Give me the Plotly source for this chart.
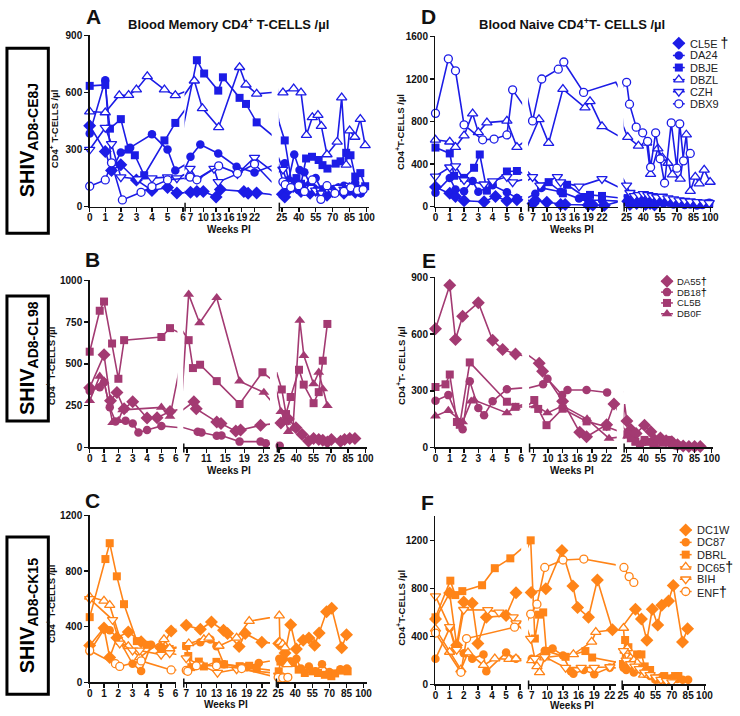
import plotly.graph_objects as go

W, H = 740, 716
FONT = "Arial, Liberation Sans, sans-serif"
BLUE = "#1c1ce6"
PURPLE = "#a33a72"
ORANGE = "#ff8418"

# ---------------- tick labels ----------------
SEG1_TICKS = [0, 1, 2, 3, 4, 5, 6]
SEG2_TICKS = [7, 10, 13, 16, 19, 22]
SEG2_TICKS_B = [7, 11, 15, 19, 23]
SEG3_TICKS = [25, 40, 55, 70, 85, 100]
A_YTICKS = [0, 300, 600, 900]
D_YTICKS = [0, 400, 800, 1200, 1600]
B_YTICKS = [0, 250, 500, 750, 1000]
E_YTICKS = [0, 300, 600, 900]
C_YTICKS = [0, 400, 800, 1200]
F_YTICKS = [0, 400, 800, 1200]

# ---------------- data: weeks PI and CD4+ T cells / ul ----------------
# Panel A - blood memory, SHIV AD8-CE8J
A_CL5E_wk = [0, 1, 1.4, 2, 3, 4, 5, 5.6, 7, 8.5, 10, 13, 14, 19.5, 20.5, 22.5, 25.5, 27.6, 31, 34, 38, 42, 46, 50, 55, 60, 65, 70, 75, 80, 85, 90, 95]
A_CL5E_val = [425, 290, 190, 220, 140, 85, 100, 72, 75, 80, 80, 50, 90, 80, 70, 72, 65, 50, 90, 110, 100, 80, 95, 70, 85, 70, 60, 80, 90, 70, 95, 75, 80]
A_DA24_wk = [0, 1, 1.4, 2, 2.6, 4, 5, 5.5, 7, 9.3, 13.5, 17.8, 22, 27.6, 31, 36, 40.7, 45, 50, 55, 60, 65, 70, 75, 80, 85, 90, 95]
A_DA24_val = [385, 665, 190, 285, 310, 380, 300, 190, 262, 327, 279, 210, 179, 228, 140, 274, 193, 180, 120, 150, 90, 100, 90, 100, 110, 80, 125, 70]
A_DBJE_wk = [0, 1, 1.3, 2, 2.5, 2.9, 3.5, 4.8, 5.5, 8.5, 10.2, 13.5, 14.6, 18.5, 20, 22.5, 27.6, 33.5, 38, 42, 46.5, 51.7, 57.6, 61, 65.4, 72.7, 77, 82, 85.8, 90, 94.5, 98.8]
A_DBJE_val = [635, 640, 410, 460, 300, 270, 165, 348, 440, 770, 700, 610, 680, 572, 540, 443, 348, 133, 150, 120, 253, 262, 245, 218, 200, 226, 238, 283, 270, 158, 176, 107]
A_DBZL_wk = [0, 1, 1.9, 2.5, 3, 3.7, 4.8, 5.5, 7.9, 9.8, 13.6, 18.5, 20, 22.5, 26, 35.5, 42, 46.8, 52, 57, 60, 65, 74, 78, 82, 85, 89.6, 94.5, 98.8]
A_DBZL_val = [500, 495, 585, 586, 615, 685, 615, 585, 662, 517, 417, 733, 641, 593, 600, 621, 600, 376, 469, 481, 423, 274, 340, 573, 219, 400, 366, 460, 322]
A_CZH_wk = [0, 1, 1.4, 2, 3.1, 4, 5, 5.6, 6.9, 8.5, 12.5, 13.5, 18, 22, 26, 30, 35, 40, 45, 50, 55, 60, 65, 70, 75, 80, 85, 90, 95]
A_CZH_val = [300, 415, 330, 155, 145, 150, 155, 150, 200, 145, 200, 130, 172, 258, 195, 120, 100, 110, 90, 100, 85, 70, 95, 80, 100, 90, 110, 95, 100]
A_DBX9_wk = [0, 1, 1.4, 2.1, 3.3, 4, 5, 6.9, 8.5, 13.6, 18, 22, 26, 28, 33, 40, 45, 52, 59.6, 65, 72, 80, 86, 92, 97]
A_DBX9_val = [107, 140, 230, 35, 75, 105, 140, 155, 141, 214, 175, 224, 130, 115, 100, 110, 80, 140, 38, 110, 70, 80, 100, 85, 90]

# Panel D - blood naive, SHIV AD8-CE8J
D_CL5E_wk = [0, 1, 1.4, 2, 3.4, 4.2, 5, 5.7, 7, 7.5, 10, 13, 14, 19, 20, 22.5, 26, 28, 31, 34, 38, 42, 46, 50]
D_CL5E_val = [185, 125, 95, 55, 45, 95, 55, 65, 30, 60, 40, 20, 20, 15, 15, 10, 50, 20, 60, 30, 40, 20, 30, 15]
D_DA24_wk = [0, 1, 1.4, 2, 2.6, 3, 4, 5, 5.7, 7.5, 8.8, 13, 17, 19, 22, 26, 29, 33, 37, 41, 45, 49, 53, 58, 62, 67, 72, 77, 82, 88, 93, 99]
D_DA24_val = [130, 270, 160, 145, 240, 140, 200, 135, 80, 120, 175, 140, 75, 60, 60, 50, 90, 40, 70, 30, 60, 35, 45, 30, 40, 20, 30, 15, 20, 10, 15, 35]
D_DBJE_wk = [0, 1, 1.3, 2, 2.7, 3.1, 3.6, 4, 5, 5.7, 8.8, 10.4, 13.5, 14.4, 18.3, 19.4, 22, 26, 30, 34, 38, 42, 46, 50, 55, 60, 65, 70, 75, 80, 85, 90, 95, 99]
D_DBJE_val = [555, 500, 290, 270, 365, 490, 150, 215, 330, 335, 190, 230, 125, 205, 90, 110, 100, 80, 60, 90, 70, 50, 60, 40, 55, 45, 35, 40, 30, 25, 30, 20, 25, 30]
D_DBZL_wk = [0, 1, 1.4, 2, 2.6, 3, 3.6, 5, 5.7, 8.3, 10.4, 13.5, 18.3, 19.4, 22, 26, 35.6, 43, 46.5, 53, 57, 62, 66, 73, 78.5, 82, 86.5, 90, 94.5, 99.8]
D_DBZL_val = [628, 610, 560, 668, 874, 698, 790, 806, 560, 821, 597, 1105, 930, 990, 754, 654, 571, 600, 305, 545, 460, 410, 300, 260, 676, 145, 280, 216, 346, 231]
D_CZH_wk = [0, 1, 1.4, 2, 3.4, 4, 5, 5.4, 6.9, 8.5, 12.3, 13, 17, 22, 25, 28, 32, 36, 40, 44, 48, 52, 57, 62, 67, 72, 77, 82, 88, 94, 99]
D_CZH_val = [285, 370, 380, 250, 210, 240, 280, 230, 280, 200, 280, 230, 190, 260, 200, 130, 100, 110, 120, 110, 100, 90, 95, 80, 70, 60, 55, 50, 45, 40, 35]
D_DBX9_wk = [0, 0.9, 1.4, 2, 3.3, 4.1, 5, 5.4, 6.9, 8.9, 12.5, 13.7, 18, 25, 27.6, 33.6, 39.4, 43.8, 46.5, 51, 55, 59, 65, 70, 72.6, 76, 82]
D_DBX9_val = [877, 1390, 1277, 769, 628, 635, 674, 1098, 806, 1200, 1292, 1360, 1074, 1169, 963, 747, 694, 614, 370, 694, 450, 222, 787, 361, 778, 430, 500]

# Panel B - blood memory, SHIV AD8-CL98
B_DA55_wk = [0, 1, 1.45, 1.9, 2.4, 3, 4, 4.7, 5.6, 8.4, 8.9, 13.2, 14.1, 17.2, 18.2, 22.4, 26.5, 33, 39.6, 45, 50.6, 55, 59.5, 63, 67, 70.5, 78.5, 82, 86.5, 91]
B_DA55_val = [358, 554, 280, 329, 231, 274, 176, 178, 215, 274, 231, 153, 143, 98, 104, 133, 147, 170, 118, 78, 39, 53, 47, 43, 33, 47, 37, 47, 53, 53]
B_DB18_wk = [0, 0.7, 1, 1.4, 1.8, 2.5, 3, 3.4, 4, 5, 9.2, 10, 13.2, 14.2, 18, 22.4, 23.5, 25.5]
B_DB18_val = [338, 360, 390, 240, 155, 160, 143, 90, 104, 129, 94, 90, 70, 72, 35, 35, 25, 10]
B_CL5B_wk = [0, 0.7, 1, 1.56, 2, 2.4, 5, 5.6, 7.3, 8.2, 9.7, 13.2, 18, 22.8, 27.3, 31, 35, 42.3, 46.4, 55, 59.5, 63, 67]
B_CL5B_val = [573, 818, 873, 622, 411, 642, 661, 714, 642, 475, 495, 397, 260, 450, 347, 200, 302, 465, 376, 265, 331, 519, 739]
B_DB0F_wk = [0, 0.7, 1, 1.6, 2, 2.3, 5, 5.6, 7.3, 9.6, 13.2, 18, 23.1, 26.5, 31, 33, 37, 43, 46.5, 55, 59.5, 63, 67]
B_DB0F_val = [280, 426, 397, 149, 160, 225, 240, 186, 916, 745, 896, 397, 329, 215, 150, 95, 115, 760, 550, 380, 450, 350, 250]

# Panel E - blood naive, SHIV AD8-CL98
E_DA55_wk = [0, 1, 1.4, 1.9, 3, 4, 4.7, 5.6, 8.2, 8.9, 13, 16.5, 17.9, 22, 23.5, 25.5, 29, 33.6, 41, 46.6, 50, 55, 60, 65, 70, 75, 80, 85, 90]
E_DA55_val = [628, 858, 571, 694, 766, 567, 519, 495, 446, 403, 245, 80, 57, 120, 230, 140, 95, 74, 118, 83, 40, 50, 35, 30, 15, 8, 5, 5, 5]
E_DB18_wk = [0, 0.9, 1.9, 2.4, 3, 3.4, 4, 5, 9, 9.9, 12.9, 14, 17.9, 22.1]
E_DB18_val = [247, 277, 97, 351, 209, 170, 244, 308, 334, 363, 277, 304, 304, 291]
E_CL5B_wk = [0, 0.7, 1, 1.5, 1.7, 2.4, 5, 5.6, 7.2, 8, 9.7, 13, 17.9, 22, 26, 29, 33, 37, 41, 45, 49, 53, 57, 61, 64, 67, 70]
E_CL5B_val = [320, 334, 386, 135, 120, 450, 242, 215, 251, 204, 118, 205, 138, 110, 70, 50, 30, 15, 40, 30, 20, 35, 25, 40, 30, 15, 10]
E_DB0F_wk = [0, 0.9, 1.9, 2.5, 2.7, 5, 5.6, 7.5, 9.9, 13, 18, 22.5, 26, 30, 34, 38, 42, 46, 50, 55, 60, 65]
E_DB0F_val = [166, 195, 135, 245, 251, 183, 213, 220, 183, 220, 150, 48, 60, 40, 30, 20, 35, 25, 15, 30, 20, 10]

# Panel C - blood memory, SHIV AD8-CK15
C_DC1W_wk = [0, 1, 1.4, 1.9, 2.7, 3.6, 5, 5.7, 7, 9.8, 12, 14.4, 15.2, 17.5, 18.7, 22, 25.5, 31, 36, 41, 47, 52, 57, 61, 67.5, 72, 80.8, 85]
C_DC1W_val = [265, 391, 180, 321, 363, 293, 245, 370, 410, 382, 434, 375, 352, 258, 352, 288, 280, 212, 414, 240, 303, 320, 268, 355, 508, 532, 249, 343]
C_DC87_wk = [0, 1, 1.4, 2, 3, 3.6, 4.3, 5.2, 7, 9.8, 11.8, 13, 14.5, 19, 21.4, 26, 30, 36, 41, 45, 52, 58, 63.5, 70, 79.6, 85.4]
C_DC87_val = [222, 382, 375, 316, 134, 82, 270, 240, 260, 288, 309, 260, 130, 110, 140, 170, 140, 150, 170, 100, 115, 80, 130, 75, 95, 100]
C_DBRL_wk = [0, 1.1, 1.4, 1.9, 2.4, 3.3, 4, 5, 5.6, 7, 7.4, 8, 9.5, 10.5, 13, 14.5, 17.6, 18.5, 19.5, 21, 25.5, 27, 29.6, 33.5, 38, 43, 48.4, 55, 60, 66, 71.7, 75, 80, 86]
C_DBRL_val = [469, 886, 1000, 762, 562, 297, 270, 246, 240, 262, 190, 110, 150, 115, 148, 130, 117, 110, 120, 100, 80, 150, 155, 150, 140, 92, 68, 80, 68, 55, 45, 65, 85, 80]
C_DC65_wk = [0, 1, 1.4, 2.2, 2.7, 3.5, 5.2, 5.6, 7.5, 10.5, 11.5, 13.5, 17, 19.5, 26, 26.5, 29, 31, 33]
C_DC65_val = [615, 586, 555, 290, 260, 180, 310, 245, 280, 310, 320, 262, 320, 440, 480, 290, 275, 250, 130]
C_BIH_wk = [0, 1.6, 2.1, 3, 3.5, 5, 5.6, 7, 9.5, 13.2, 17, 25.5, 28, 32]
C_BIH_val = [600, 450, 281, 230, 230, 200, 210, 175, 130, 70, 95, 50, 45, 40]
C_ENF_wk = [0, 1.8, 2.1, 3.6, 5.7, 7, 7.3, 9, 13, 18, 25, 29, 33.5]
C_ENF_val = [230, 135, 115, 155, 90, 87, 80, 120, 120, 100, 37, 33, 37]

# Panel F - blood naive, SHIV AD8-CK15
F_DC1W_wk = [0, 1, 1.5, 2, 2.6, 3, 3.6, 5, 5.7, 6.9, 9.7, 12.8, 14.9, 15.8, 17.9, 19.6, 22.5, 36.5, 42, 47, 52, 57, 60.7, 67, 71.3, 79.8, 84.5]
F_DC1W_val = [545, 761, 327, 687, 676, 341, 559, 573, 764, 765, 796, 1115, 820, 640, 560, 870, 455, 626, 544, 367, 626, 495, 659, 694, 824, 353, 463]
F_DC87_wk = [0, 1, 1.4, 2, 2.6, 3.4, 3.6, 5, 5.7, 7, 9.5, 11, 13, 14.5, 15, 17, 19, 22, 25.5, 28, 31, 35, 40, 45, 50, 55, 60, 65, 70, 75, 80, 85]
F_DC87_val = [213, 469, 300, 260, 213, 250, 109, 265, 213, 213, 280, 300, 240, 110, 90, 120, 85, 140, 140, 120, 150, 100, 130, 90, 70, 40, 60, 30, 50, 45, 40, 40]
F_DBRL_wk = [0, 1.05, 1.4, 1.9, 3.3, 4.2, 5.3, 6.8, 7.6, 8.4, 9.2, 9.8, 13.5, 17.3, 18.6, 25, 27, 30, 33, 38, 42, 45, 50, 55, 60, 63, 66, 70, 73, 76]
F_DBRL_val = [559, 864, 744, 777, 826, 968, 1050, 1200, 382, 581, 600, 278, 230, 278, 224, 170, 370, 310, 180, 250, 250, 150, 120, 50, 40, 70, 30, 50, 70, 70]
F_DC65_wk = [0, 1, 1.8, 2.3, 3.4, 4.2, 5.2, 5.7, 7, 8, 8.5, 9.5, 15, 18.5, 19.3, 25.5, 27, 29, 32, 35, 38, 41, 44]
F_DC65_val = [463, 270, 123, 265, 160, 215, 210, 215, 200, 150, 100, 224, 251, 355, 436, 470, 280, 300, 220, 200, 180, 120, 80]
F_BIH_wk = [0, 1, 1.5, 2, 3.7, 4.5, 5.5, 5.7, 6.8, 7.6, 9.5, 13.5, 16.5, 19, 22, 25.5, 28, 32, 36, 40, 45, 50, 55, 60, 65, 70]
F_BIH_val = [736, 480, 290, 622, 620, 600, 560, 510, 382, 215, 230, 140, 140, 140, 145, 280, 200, 170, 150, 130, 100, 80, 60, 40, 30, 20]
F_ENF_wk = [0, 1.8, 2.2, 5.6, 6.8, 8, 9.5, 13, 17, 25.9, 30.7, 35]
F_ENF_val = [428, 101, 382, 477, 586, 668, 974, 1036, 1044, 974, 898, 849]

# ---------------- series definitions ----------------
A_SERIES = [("CL5E", A_CL5E_wk, A_CL5E_val, "diamond"), ("DA24", A_DA24_wk, A_DA24_val, "circle"),
            ("DBJE", A_DBJE_wk, A_DBJE_val, "square"), ("DBZL", A_DBZL_wk, A_DBZL_val, "tri-up-open"),
            ("CZH", A_CZH_wk, A_CZH_val, "tri-down-open"), ("DBX9", A_DBX9_wk, A_DBX9_val, "circle-open")]
D_SERIES = [("CL5E", D_CL5E_wk, D_CL5E_val, "diamond"), ("DA24", D_DA24_wk, D_DA24_val, "circle"),
            ("DBJE", D_DBJE_wk, D_DBJE_val, "square"), ("DBZL", D_DBZL_wk, D_DBZL_val, "tri-up-open"),
            ("CZH", D_CZH_wk, D_CZH_val, "tri-down-open"), ("DBX9", D_DBX9_wk, D_DBX9_val, "circle-open")]
B_SERIES = [("DA55", B_DA55_wk, B_DA55_val, "diamond"), ("DB18", B_DB18_wk, B_DB18_val, "circle"),
            ("CL5B", B_CL5B_wk, B_CL5B_val, "square"), ("DB0F", B_DB0F_wk, B_DB0F_val, "tri-up")]
E_SERIES = [("DA55", E_DA55_wk, E_DA55_val, "diamond"), ("DB18", E_DB18_wk, E_DB18_val, "circle"),
            ("CL5B", E_CL5B_wk, E_CL5B_val, "square"), ("DB0F", E_DB0F_wk, E_DB0F_val, "tri-up")]
C_SERIES = [("DC1W", C_DC1W_wk, C_DC1W_val, "diamond"), ("DC87", C_DC87_wk, C_DC87_val, "circle"),
            ("DBRL", C_DBRL_wk, C_DBRL_val, "square"), ("DC65", C_DC65_wk, C_DC65_val, "tri-up-open"),
            ("BIH", C_BIH_wk, C_BIH_val, "tri-down-open"), ("ENF", C_ENF_wk, C_ENF_val, "circle-open")]
F_SERIES = [("DC1W", F_DC1W_wk, F_DC1W_val, "diamond"), ("DC87", F_DC87_wk, F_DC87_val, "circle"),
            ("DBRL", F_DBRL_wk, F_DBRL_val, "square"), ("DC65", F_DC65_wk, F_DC65_val, "tri-up-open"),
            ("BIH", F_BIH_wk, F_BIH_val, "tri-down-open"), ("ENF", F_ENF_wk, F_ENF_val, "circle-open")]

D_LEGEND = ["CL5E", "DA24", "DBJE", "DBZL", "CZH", "DBX9"]
D_DEAD = ["CL5E"]
E_LEGEND = ["DA55", "DB18", "CL5B", "DB0F"]
E_DEAD = ["DA55", "DB18"]
F_LEGEND = ["DC1W", "DC87", "DBRL", "DC65", "BIH", "ENF"]
F_DEAD = ["DC65", "ENF"]

# ---------------- geometry (pixels) ----------------
# each segment: (start_px, end_px, ref_val1, ref_px1, ref_val2, ref_px2, ticks)
PANELS = [
    dict(letter="A", color=BLUE, series=A_SERIES, ybot=204, ytop=30, ymax=900, yticks=A_YTICKS,
         segs=[(87, 183, 0, 87, 6, 181.8, SEG1_TICKS), (183.3, 271.7, 7, 189.3, 22, 254.3, SEG2_TICKS),
               (279, 370, 25, 282, 100, 368, SEG3_TICKS)],
         letter_xy=(91, 11), ytitle_xy=(51, 125), weeks_xy=(228, 227),
         ytitle="CD4<sup>+</sup> T-CELLS /µl"),
    dict(letter="D", color=BLUE, series=D_SERIES, ybot=204, ytop=31, ymax=1600, yticks=D_YTICKS,
         segs=[(438, 526, 0, 438, 6, 525, SEG1_TICKS), (532, 623, 7, 537, 22, 607, SEG2_TICKS),
               (629, 720, 25, 632, 100, 717, SEG3_TICKS)],
         letter_xy=(431, 11), ytitle_xy=(402, 128), weeks_xy=(577, 227),
         ytitle="CD4<sup>+</sup>T-CELLS /µl",
         legend=dict(names=D_LEGEND, dead=D_DEAD, sx=685, tx=694, y0=38, dy=12.3, size=11, gap=" ", dsize=14)),
    dict(letter="B", color=PURPLE, series=B_SERIES, ybot=449, ytop=279, ymax=1000, yticks=B_YTICKS,
         segs=[(87, 176, 0, 87, 6, 174.3, SEG1_TICKS), (182, 270, 7, 186, 23, 263.3, SEG2_TICKS_B),
               (277, 368, 25, 279.3, 100, 366.7, SEG3_TICKS)],
         letter_xy=(90, 258), ytitle_xy=(48, 366), weeks_xy=(228, 472),
         ytitle="CD4<sup>+</sup> T-CELLS /µl"),
    dict(letter="E", color=PURPLE, series=E_SERIES, ybot=449, ytop=276, ymax=900, yticks=E_YTICKS,
         segs=[(438, 526, 0, 438, 6, 525, SEG1_TICKS), (533, 622, 7, 537.3, 22, 611.7, SEG2_TICKS),
               (629, 720, 25, 631.7, 100, 718.3, SEG3_TICKS)],
         letter_xy=(431, 259), ytitle_xy=(403, 366), weeks_xy=(577, 472),
         ytitle="CD4<sup>+</sup>T- CELLS /µl",
         legend=dict(names=E_LEGEND, dead=E_DEAD, sx=673, tx=681, y0=280, dy=11, size=9.5, gap="", dsize=11)),
    dict(letter="C", color=ORANGE, series=C_SERIES, ybot=688, ytop=518, ymax=1200, yticks=C_YTICKS,
         segs=[(87, 175, 0, 87, 6, 174, SEG1_TICKS), (182, 270, 7, 185, 22, 261.7, SEG2_TICKS),
               (276, 368, 25, 278.3, 100, 365, SEG3_TICKS)],
         letter_xy=(90, 503), ytitle_xy=(48, 608), weeks_xy=(225, 710),
         ytitle="CD4<sup>+</sup> T-CELLS /µl"),
    dict(letter="F", color=ORANGE, series=F_SERIES, ybot=690, ytop=519, ymax=1400, yticks=F_YTICKS,
         segs=[(438, 525, 0, 438, 6, 524, SEG1_TICKS), (532, 621, 7, 535.7, 22, 615, SEG2_TICKS),
               (627, 713, 25, 628.3, 100, 711, SEG3_TICKS)],
         letter_xy=(430, 505), ytitle_xy=(403, 612), weeks_xy=(577, 711),
         ytitle="CD4<sup>+</sup>T-CELLS /µl",
         legend=dict(names=F_LEGEND, dead=F_DEAD, sx=692, tx=701, y0=533, dy=12.5, size=11, gap="", dsize=14)),
]

ROW_BOXES = [("<b>SHIV<sub>AD8-CE8J</sub></b>", 3, 43, 45, 231),
             ("<b>SHIV<sub>AD8-CL98</sub></b>", 3, 295, 45, 422),
             ("<b>SHIV<sub>AD8-CK15</sub></b>", 3, 540, 45, 700)]

TITLES = [("Blood Memory CD4<sup>+</sup> T-CELLS /µl", 228, 18),
          ("Blood Naive CD4<sup>+</sup>T- CELLS /µl", 577, 18)]


def fx(px):
    return px / W


def fy(py):
    return 1 - py / H


def seg_range(start, end, v1, p1, v2, p2):
    ppw = (p2 - p1) / (v2 - v1)
    return [v1 - (p1 - start) / ppw, v1 + (end - p1) / ppw]


def marker_for(sym, color):
    if sym == "diamond":
        return dict(symbol="diamond", size=10, color=color, line=dict(width=0))
    if sym == "circle":
        return dict(symbol="circle", size=8.5, color=color, line=dict(width=0))
    if sym == "square":
        return dict(symbol="square", size=8, color=color, line=dict(width=0))
    if sym == "tri-up":
        return dict(symbol="triangle-up", size=9.5, color=color, line=dict(width=0))
    if sym == "tri-up-open":
        return dict(symbol="triangle-up", size=9, color="white", line=dict(color=color, width=1.3))
    if sym == "tri-down-open":
        return dict(symbol="triangle-down", size=9, color="white", line=dict(color=color, width=1.3))
    return dict(symbol="circle", size=8, color="white", line=dict(color=color, width=1.3))


def bucket(w):
    if w <= 6.2:
        return 0
    if w <= 24.0:
        return 1
    return 2


fig = go.Figure()
layout = dict(width=W, height=H, autosize=False, margin=dict(l=0, r=0, t=0, b=0),
              paper_bgcolor="white", plot_bgcolor="rgba(0,0,0,0)", showlegend=False,
              font=dict(family=FONT, color="#111"))
annotations = []
shapes = []

AXIS_COMMON = dict(ticks="outside", ticklen=4, tickwidth=1.5, tickcolor="#111",
                   showline=True, linewidth=1.5, linecolor="#111",
                   showgrid=False, zeroline=False, fixedrange=True,
                   tickfont=dict(family=FONT, size=10, color="#111", weight="bold"))

for p, pan in enumerate(PANELS):
    yname = "y" if p == 0 else f"y{p + 1}"
    ykey = "yaxis" if p == 0 else f"yaxis{p + 1}"
    for s, seg in enumerate(pan["segs"]):
        n = p * 3 + s + 1
        xname = "x" if n == 1 else f"x{n}"
        xkey = "xaxis" if n == 1 else f"xaxis{n}"
        start, end, v1, p1, v2, p2, ticks = seg
        rng = seg_range(start, end, v1, p1, v2, p2)
        layout[xkey] = dict(domain=[fx(start), fx(end)], range=rng, anchor=yname,
                            tickvals=ticks, ticktext=[str(t) for t in ticks], tickangle=0,
                            ticklabelstandoff=-3, **AXIS_COMMON)
        if s > 0:
            shapes.append(dict(type="line", xref="paper", yref="paper",
                               x0=fx(start + 0.5), x1=fx(start + 0.5),
                               y0=fy(pan["ybot"] - 4), y1=fy(pan["ybot"] + 5),
                               line=dict(color="#111", width=1.5)))
        if s == 0:
            layout[ykey] = dict(domain=[fy(pan["ybot"]), fy(pan["ytop"])], range=[0, pan["ymax"]],
                                anchor=xname, tickvals=pan["yticks"], **AXIS_COMMON)
        for name, wk, val, sym in pan["series"]:
            fig.add_trace(go.Scatter(x=wk, y=val, xaxis=xname, yaxis=yname, mode="lines",
                                     line=dict(color=pan["color"], width=1.6),
                                     hoverinfo="skip", showlegend=False))
            mx = [w for w in wk if bucket(w) == s]
            my = [v for w, v in zip(wk, val) if bucket(w) == s]
            fig.add_trace(go.Scatter(x=mx, y=my, xaxis=xname, yaxis=yname, mode="markers",
                                     marker=marker_for(sym, pan["color"]), cliponaxis=False,
                                     name=name, showlegend=False))

    lx, ly = pan["letter_xy"]
    annotations.append(dict(text=f"<b>{pan['letter']}</b>", x=fx(lx), y=fy(ly), xref="paper", yref="paper",
                            showarrow=False, xanchor="center", yanchor="middle",
                            font=dict(family=FONT, size=21, color="#111")))
    tx, ty = pan["ytitle_xy"]
    annotations.append(dict(text=f"<b>{pan['ytitle']}</b>", x=fx(tx), y=fy(ty), xref="paper", yref="paper",
                            showarrow=False, textangle=-90, xanchor="center", yanchor="middle",
                            font=dict(family=FONT, size=9.5, color="#111")))
    wx, wy = pan["weeks_xy"]
    annotations.append(dict(text="<b>Weeks PI</b>", x=fx(wx), y=fy(wy), xref="paper", yref="paper",
                            showarrow=False, xanchor="center", yanchor="middle",
                            font=dict(family=FONT, size=10, color="#111")))

# legends drawn on a pixel-space overlay axis
layout["xaxis19"] = dict(domain=[0, 1], range=[0, W], visible=False, fixedrange=True, anchor="y7")
layout["yaxis7"] = dict(domain=[0, 1], range=[H, 0], visible=False, fixedrange=True, anchor="x19")
for pan in PANELS:
    leg = pan.get("legend")
    if not leg:
        continue
    sym_of = {name: sym for name, _, _, sym in pan["series"]}
    for i, name in enumerate(leg["names"]):
        yy = leg["y0"] + i * leg["dy"]
        fig.add_trace(go.Scatter(x=[leg["sx"] - 6, leg["sx"] + 6], y=[yy, yy], xaxis="x19", yaxis="y7",
                                 mode="lines", line=dict(color=pan["color"], width=1.5),
                                 hoverinfo="skip", showlegend=False))
        mk = marker_for(sym_of[name], pan["color"])
        fig.add_trace(go.Scatter(x=[leg["sx"]], y=[yy], xaxis="x19", yaxis="y7", mode="markers",
                                 marker=mk, cliponaxis=False, hoverinfo="skip", showlegend=False))
        label = name
        if name in leg["dead"]:
            label = name + leg["gap"] + f'<span style="font-size:{leg["dsize"]}px;color:#000">†</span>'
        annotations.append(dict(text=label, x=fx(leg["tx"]), y=fy(yy), xref="paper", yref="paper",
                                showarrow=False, xanchor="left", yanchor="middle",
                                font=dict(family=FONT, size=leg["size"], color="#222")))

for text, x0, y0, x1, y1 in ROW_BOXES:
    shapes.append(dict(type="rect", xref="paper", yref="paper", x0=fx(x0), x1=fx(x1), y0=fy(y1), y1=fy(y0),
                       line=dict(color="#000", width=3), fillcolor="white", layer="below"))
    annotations.append(dict(text=text, x=fx((x0 + x1) / 2 + 1), y=fy((y0 + y1) / 2), xref="paper", yref="paper",
                            showarrow=False, textangle=-90, xanchor="center", yanchor="middle",
                            font=dict(family=FONT, size=20, color="#000")))

for text, x, y in TITLES:
    annotations.append(dict(text=f"<b>{text}</b>", x=fx(x), y=fy(y), xref="paper", yref="paper",
                            showarrow=False, xanchor="center", yanchor="middle",
                            font=dict(family=FONT, size=13, color="#111")))

layout["annotations"] = annotations
layout["shapes"] = shapes
fig.update_layout(**layout)
fig.write_html("out.html", config={"displayModeBar": False, "staticPlot": True},
               post_script="document.body.style.margin='0';document.body.style.overflow='hidden';")
